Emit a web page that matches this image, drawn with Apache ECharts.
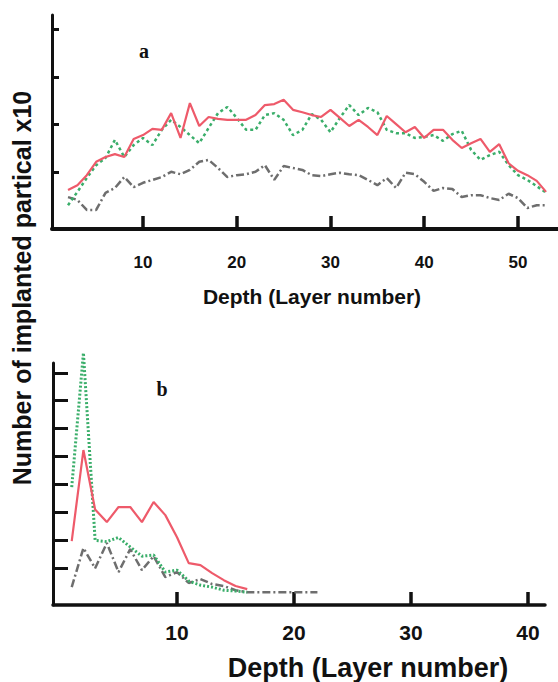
<!DOCTYPE html>
<html>
<head>
<meta charset="utf-8">
<script src="https://cdn.jsdelivr.net/npm/echarts@6/dist/echarts.min.js"></script>
<style>html,body{margin:0;padding:0;background:#fff;}#c{width:558px;height:682px;}</style>
</head>
<body>
<div id="c"></div>
<script>
// ---------- Panel a ----------
const layersA = [2,3,4,5,6,7,8,9,10,11,12,13,14,15,16,17,18,19,20,21,22,23,24,25,26,27,28,29,30,31,32,33,34,35,36,37,38,39,40,41,42,43,44,45,46,47,48,49,50,51,52,53];
const redA = [6.3,7.3,9.4,12.2,13.2,13.8,13.2,17.0,17.8,19.1,18.9,22.4,17.2,24.5,19.7,21.6,21.2,21.0,21.0,21.0,22.0,24.1,24.3,25.2,23.1,22.6,22.0,21.6,23.1,21.4,19.7,21.0,19.5,17.8,21.8,20.1,18.4,19.5,17.2,18.9,18.9,16.8,15.1,16.1,17.0,14.3,15.9,11.9,10.3,9.4,8.2,5.9];
const greenA = [3.1,5.9,8.8,11.5,13.0,16.8,13.2,15.7,17.2,15.7,18.9,21.0,19.5,17.8,16.1,19.3,22.4,23.7,21.4,18.9,18.9,22.0,22.4,21.0,17.8,18.9,22.2,21.0,18.4,21.4,24.1,22.0,23.5,22.6,18.9,18.2,18.2,17.2,17.4,17.8,16.6,18.0,18.7,14.7,12.6,13.6,14.3,11.5,9.4,8.4,7.1,5.7];
const greyA = [4.8,4.2,2.1,2.1,5.7,6.7,9.0,6.9,7.8,8.4,9.0,10.1,9.6,10.5,12.2,12.6,10.9,9.0,9.4,9.6,10.1,11.5,8.4,11.3,10.9,10.5,9.4,9.2,9.6,9.9,9.6,9.4,8.4,7.3,8.8,6.7,9.9,9.6,8.0,6.1,6.7,6.5,4.8,5.2,5.2,4.6,4.2,5.5,4.6,2.5,3.1,3.1];
const xTicksA = [10,20,30,40,50];
const yTicksA = [10,20,30,40];

// ---------- Panel b ----------
const layersB = [1,2,3,4,5,6,7,8,9,10,11,12,13,14,15,16,17,18,19,20,21,22];
const redB = [1.97,5.23,3.1,2.65,3.19,3.19,2.65,3.37,2.90,2.11,1.18,1.11,0.82,0.57,0.36,0.25];
const greenB = [3.9,8.71,2.0,1.95,2.1,1.76,1.43,1.47,0.86,0.93,0.54,0.39,0.32,0.21,0.18,0.14];
const greyB = [0.32,1.72,1.00,1.90,0.86,1.68,0.93,1.43,0.68,0.86,0.47,0.61,0.43,0.36,0.21,0.14,0.14,0.14,0.14,0.14,0.14,0.14];
const xTicksB = [10,20,30,40];
const yTicksB = [1,2,3,4,5,6,7,8];

const yTitle = 'Number of implanted partical x10';
const xTitle = 'Depth (Layer number)';

const pairs = (xs, ys) => ys.map((v, i) => [xs[i], v]);
const FONT = '"Liberation Sans", Arial, sans-serif';
const INK = '#111';

const XA = [0.29, 54.27], YA = [-1.89, 42.98];
const XB = [-0.6, 41.45], YB = [-0.32, 8.35];

function xAxisCfg(idx, ext, ticks, lblSize, lblMargin, nameSize, nameGap, nameShift, lineW) {
  return {
    type: 'value', gridIndex: idx, min: ext[0], max: ext[1],
    axisLine: {show: true, onZero: false, lineStyle: {color: INK, width: lineW}},
    axisTick: {show: false},
    axisLabel: {show: true, customValues: ticks, margin: lblMargin, color: INK, fontFamily: FONT, fontWeight: 'bold', fontSize: lblSize},
    splitLine: {show: false},
    name: xTitle, nameLocation: 'middle', nameGap: nameGap,
    nameTextStyle: {color: INK, fontFamily: FONT, fontWeight: 'bold', fontSize: nameSize, padding: [0, 0, 0, nameShift * 2]}
  };
}
// companion axis on a thin grid whose bottom edge is 13px above the main x-axis line;
// its outside (downward) ticks reach onto that line. Its own line is kept but made transparent.
function xTickAxis(idx, ext, ticks, tickLen) {
  return {
    type: 'value', gridIndex: idx, position: 'bottom', min: ext[0], max: ext[1],
    axisLine: {show: true, onZero: false, lineStyle: {color: 'rgba(255,255,255,0)', width: 1}},
    axisTick: {show: true, inside: false, length: tickLen, customValues: ticks, lineStyle: {color: INK, width: 3.5}},
    axisLabel: {show: false, customValues: ticks},
    splitLine: {show: false}
  };
}
function yAxisCfg(idx, ext, ticks, tickLen) {
  return {
    type: 'value', gridIndex: idx, min: ext[0], max: ext[1],
    axisLine: {show: true, onZero: false, lineStyle: {color: INK, width: 3}},
    axisTick: {show: true, inside: true, length: tickLen, customValues: ticks, lineStyle: {color: INK, width: 3}},
    axisLabel: {show: false},
    splitLine: {show: false}
  };
}
function auxY(idx) {
  return {
    type: 'value', gridIndex: idx, min: 0, max: 1,
    axisLine: {show: false}, axisTick: {show: false}, axisLabel: {show: false}, splitLine: {show: false}
  };
}
function line(idx, data, color, width, type) {
  return {
    type: 'line', xAxisIndex: idx, yAxisIndex: idx, data: data,
    showSymbol: false, symbol: 'none', clip: false, animation: false,
    lineStyle: {color: color, width: width, type: type}
  };
}

const chart = echarts.init(document.getElementById('c'), null, {renderer: 'svg'});
chart.setOption({
  backgroundColor: '#fff',
  animation: false,
  grid: [
    {left: 52, top: 15, width: 506, height: 214},
    {left: 53, top: 363, width: 492, height: 242},
    {left: 52, top: 196, width: 506, height: 20},
    {left: 53, top: 572, width: 492, height: 20}
  ],
  xAxis: [
    xAxisCfg(0, XA, xTicksA, 17, 25, 21, 57, 7, 4),
    xAxisCfg(1, XB, xTicksB, 21, 17, 27, 49, 69, 3.5),
    xTickAxis(2, XA, xTicksA, 13),
    xTickAxis(3, XB, xTicksB, 13)
  ],
  yAxis: [
    yAxisCfg(0, YA, yTicksA, 7),
    yAxisCfg(1, YB, yTicksB, 15),
    auxY(2),
    auxY(3)
  ],
  series: [
    line(0, pairs(layersA, greyA), '#6e6e6e', 2.5, [8, 3, 2, 3]),
    line(0, pairs(layersA, greenA), '#3aae6a', 2.5, [3, 3]),
    line(0, pairs(layersA, redA), '#ee5a6a', 2.2, 'solid'),
    line(1, pairs(layersB, greyB), '#6e6e6e', 2.5, [8, 3, 2, 3]),
    line(1, pairs(layersB, greenB), '#3aae6a', 3, [2, 2]),
    line(1, pairs(layersB, redB), '#ee5a6a', 2.2, 'solid')
  ],
  graphic: [
    {type: 'text', x: 22, y: 288, rotation: Math.PI / 2,
     style: {text: yTitle, fill: INK, font: 'bold 25px "Liberation Sans", Arial, sans-serif',
             align: 'center', verticalAlign: 'middle', textAlign: 'center', textVerticalAlign: 'middle'}},
    {type: 'text', x: 144, y: 51,
     style: {text: 'a', fill: INK, font: 'bold 20px "Liberation Serif", "Times New Roman", serif',
             align: 'center', verticalAlign: 'middle', textAlign: 'center', textVerticalAlign: 'middle'}},
    {type: 'text', x: 162, y: 389,
     style: {text: 'b', fill: INK, font: 'bold 20px "Liberation Serif", "Times New Roman", serif',
             align: 'center', verticalAlign: 'middle', textAlign: 'center', textVerticalAlign: 'middle'}}
  ]
});
</script>
</body>
</html>
